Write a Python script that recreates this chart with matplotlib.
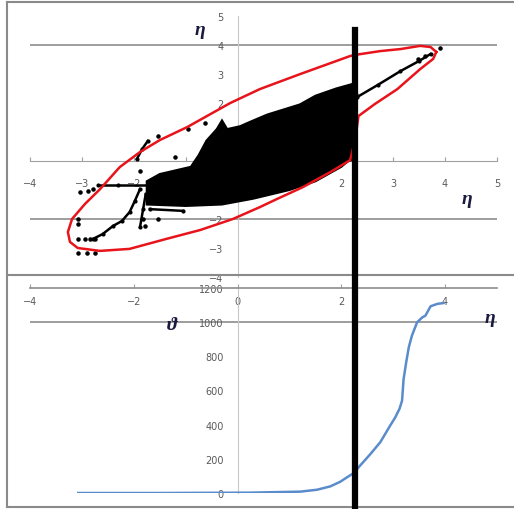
import numpy as np
import matplotlib.pyplot as plt
from matplotlib.lines import Line2D
from matplotlib.transforms import blended_transform_factory

# ---------------- DATA ----------------
# dense core of the eta/eta cloud (outline)
core_x = [-1.75, -1.75, -1.50, -0.90, -0.75, -0.60, -0.40, -0.30, -0.20, 0.05, 0.24,
          0.57, 1.20, 1.50, 1.90, 2.20, 2.31, 2.25, 2.25, 2.20, 2.00, 1.50, 1.00,
          0.30, -0.30, -1.00]
core_y = [-1.50, -0.70, -0.45, -0.20, 0.20, 0.70, 1.10, 1.40, 1.10, 1.20, 1.35,
          1.60, 1.95, 2.25, 2.50, 2.65, 2.30, 1.50, 0.50, 0.10, -0.20, -0.70, -1.00,
          -1.30, -1.50, -1.55]

# streaks of points leaving the core
streaks = [
    ([-2.79, -2.60, -2.40, -2.23, -2.08, -1.98, -1.88], [-2.69, -2.52, -2.24, -2.07, -1.76, -1.38, -0.97]),
    ([-2.69, -2.30, -1.73], [-0.83, -0.83, -0.83]),
    ([-1.94, -1.84, -1.73], [0.07, 0.41, 0.69]),
    ([-1.88, -1.82, -1.77], [-2.28, -1.66, -1.14]),
    ([2.31, 2.70, 3.14, 3.50, 3.72], [2.21, 2.62, 3.10, 3.45, 3.69]),
    ([1.07, 1.59, 2.17], [-0.86, -0.45, 0.07]),
    ([-1.69, -1.05], [-1.66, -1.72]),
]

# isolated points
pts_x = [-3.08, -3.08, -3.08, -2.94, -2.85, -2.75, -3.08, -2.91, -2.75, -3.04, -2.89,
         -2.79, -1.53, -1.21, -0.96, -0.63, -1.88, -1.82, -1.53, -1.79, 3.91, 3.62, 3.48]
pts_y = [-2.00, -2.17, -2.69, -2.69, -2.69, -2.69, -3.17, -3.17, -3.17, -1.07, -1.03,
         -0.97, 0.86, 0.14, 1.10, 1.31, -0.34, -2.00, -2.00, -2.24, 3.90, 3.62, 3.52]

# red outline around the cloud
ring_x = [3.83, 3.72, 3.52, 3.14, 2.75, 2.27, 2.17, 1.21, 0.43, -0.14, -0.97, -1.50,
          -1.88, -2.27, -2.65, -2.94, -3.19, -3.27, -3.23, -3.08, -2.65, -2.08, -1.38,
          -0.72, -0.09, 0.43, 0.76, 1.26, 1.79, 2.17, 2.27, 2.33, 2.65, 3.08, 3.52,
          3.77, 3.83]
ring_y = [3.76, 3.93, 3.97, 3.86, 3.79, 3.66, 3.62, 3.00, 2.48, 2.00, 1.17, 0.72,
          0.31, -0.21, -0.97, -1.48, -2.00, -2.45, -2.79, -3.00, -3.10, -3.03, -2.69,
          -2.38, -2.00, -1.59, -1.31, -0.90, -0.38, 0.03, 0.76, 1.55, 1.97, 2.48, 3.17,
          3.52, 3.76]

# cumulative curve (bottom panel)
theta_x = [-3.07, -1.50, 0.24, 1.21, 1.53, 1.79, 1.98, 2.11, 2.24, 2.36, 2.56, 2.75,
           2.94, 3.04, 3.07, 3.12, 3.17, 3.20, 3.25, 3.30, 3.36, 3.46, 3.56, 3.62,
           3.72, 3.85, 3.97]
theta_y = [0, 0, 2, 8, 19, 39, 66, 92, 117, 160, 228, 297, 394, 443, 462, 492, 540,
           667, 765, 853, 921, 999, 1028, 1038, 1093, 1107, 1112]

cut_x = 2.27

tick_col = "#595959"
grid_col = "#8c8c8c"
axis_col = "#c8c8c8"

fig = plt.figure(figsize=(5.14, 5.10), dpi=100)
W, H = 514, 510

# ---------------- TOP: SCATTER ----------------
ax1 = fig.add_axes([30 / W, (H - 278) / H, 467 / W, 261 / H])
ax1.set_xlim(-4, 5)
ax1.set_ylim(-4, 5)
ax1.patch.set_alpha(0)
for s in ["top", "right"]:
    ax1.spines[s].set_visible(False)
ax1.spines["left"].set_position("zero")
ax1.spines["bottom"].set_position("zero")
ax1.spines["left"].set_color(axis_col)
ax1.spines["bottom"].set_color("#a0a0a0")
ax1.set_xticks(range(-4, 6))
ax1.set_yticks(range(-4, 6))
ax1.tick_params(axis="x", direction="in", length=3, color="#a0a0a0",
                labelsize=7, labelcolor=tick_col, pad=12)
ax1.tick_params(axis="y", length=0, labelsize=7, labelcolor=tick_col, pad=10)
ax1.hlines([4, -2], -4, 5, color=grid_col, lw=1.2, zorder=1)

ax1.fill(core_x, core_y, color="black", lw=1.5, zorder=3)
for sx, sy in streaks:
    ax1.plot(sx, sy, color="black", lw=1.8, marker="o", ms=2, zorder=3)
ax1.scatter(pts_x, pts_y, s=5, color="black", zorder=3)
ax1.plot(ring_x, ring_y, color="#e8141c", lw=1.8, zorder=4)

ax1.text(-0.72, 4.55, "η", fontsize=14, fontweight="bold", fontstyle="italic",
         family="Liberation Serif", color="#1a1a40", ha="center", va="center")
ax1.text(4.43, -1.31, "η", fontsize=14, fontweight="bold", fontstyle="italic",
         family="Liberation Serif", color="#1a1a40", ha="center", va="center")

# ---------------- BOTTOM: LINE ----------------
ax2 = fig.add_axes([30 / W, 16 / H, 467 / W, 205 / H])
ax2.set_xlim(-4, 5)
ax2.set_ylim(0, 1200)
ax2.patch.set_alpha(0)
for s in ["bottom", "right"]:
    ax2.spines[s].set_visible(False)
ax2.spines["left"].set_position(("data", 0))
ax2.spines["left"].set_color(axis_col)
ax2.spines["top"].set_color(grid_col)
ax2.spines["top"].set_linewidth(1.2)
ax2.set_xticks([-4, -2, 0, 2, 4])
ax2.set_yticks(range(0, 1201, 200))
ax2.tick_params(axis="x", top=True, bottom=False, labeltop=True, labelbottom=False,
                direction="out", length=3, color="#a0a0a0", labelsize=7,
                labelcolor=tick_col, pad=-16)
ax2.tick_params(axis="y", length=0, labelsize=7, labelcolor=tick_col, pad=10)
ax2.hlines([1000], -4, 5, color=grid_col, lw=1.2, zorder=1)

ax2.plot(theta_x, theta_y, color="#5a8ccc", lw=1.8, zorder=3)

ax2.text(-1.26, 989, "ϑ", fontsize=14, fontweight="bold", fontstyle="italic",
         family="Liberation Serif", color="#1a1a40", ha="center", va="center")
ax2.text(4.87, 1030, "η", fontsize=14, fontweight="bold", fontstyle="italic",
         family="Liberation Serif", color="#1a1a40", ha="center", va="center")

# ---------------- FRAMES AND CUT LINE ----------------
def px_line(x0, y0, x1, y1, **kw):
    fig.add_artist(Line2D([x0 / W, x1 / W], [1 - y0 / H, 1 - y1 / H],
                          transform=fig.transFigure, **kw))

px_line(7, 3, 513, 3, color="#8a8a8a", lw=1.5)
px_line(7, 3, 7, 508, color="#8a8a8a", lw=1.5)
px_line(7, 276, 513, 276, color="#8a8a8a", lw=1.5)
px_line(7, 508, 513, 508, color="#8a8a8a", lw=1.5)

trans = blended_transform_factory(ax1.transData, fig.transFigure)
fig.add_artist(Line2D([cut_x, cut_x], [0, 1 - 31 / H], transform=trans,
                      color="black", lw=4.5, zorder=10))

fig.savefig("out.png", dpi=100)
